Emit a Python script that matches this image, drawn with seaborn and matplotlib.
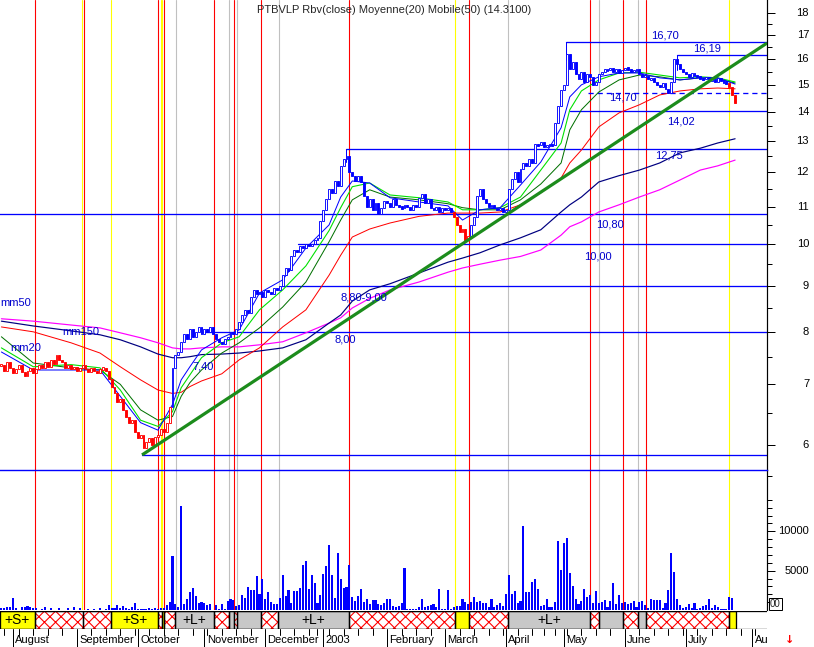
import numpy as np
import pandas as pd
import matplotlib
matplotlib.use("Agg")
import matplotlib.pyplot as plt
import seaborn as sns
from matplotlib.patches import Rectangle
from matplotlib.ticker import FixedLocator, NullFormatter, NullLocator

sns.set_theme(style="white")
plt.rcParams["font.family"] = ["Liberation Sans", "DejaVu Sans"]
plt.rcParams["hatch.linewidth"] = 0.8

# ---------------- data ----------------
closes = [
    7.35, 7.25, 7.40, 7.30, 7.20, 7.28, 7.35, 7.22, 7.15, 7.25,
    7.30, 7.20, 7.28, 7.35, 7.30, 7.40, 7.32, 7.45, 7.38, 7.55,
    7.45, 7.40, 7.30, 7.35, 7.28, 7.32, 7.25, 7.30, 7.35, 7.28,
    7.22, 7.30, 7.25, 7.20, 7.28, 7.30, 7.25, 7.10, 6.95, 6.85,
    6.70, 6.75, 6.55, 6.45, 6.35, 6.40, 6.20, 6.10, 6.15, 5.95,
    6.05, 6.10, 6.00, 6.12, 6.15, 6.25, 6.20, 6.35, 6.60, 7.30,
    7.55, 7.60, 7.80, 7.95, 7.85, 8.05, 7.90, 8.00, 8.10, 7.95,
    8.05, 8.00, 8.10, 7.95, 7.85, 7.80, 7.75, 7.85, 7.90, 8.00,
    7.95, 8.05, 8.20, 8.35, 8.45, 8.40, 8.75, 8.90, 8.80, 8.85,
    8.75, 8.90, 8.85, 8.80, 8.95, 8.90, 9.00, 9.25, 9.40, 9.35,
    9.70, 9.85, 9.80, 9.95, 9.90, 10.00, 9.95, 10.00, 10.10, 10.15,
    10.60, 10.90, 11.20, 11.50, 11.40, 11.75, 11.60, 12.20, 12.40, 12.50,
    12.00, 11.90, 11.75, 11.90, 11.70, 11.30, 11.00, 11.20, 10.90, 11.10,
    10.80, 10.95, 11.15, 11.10, 11.00, 11.20, 11.05, 11.00, 10.95, 11.05,
    11.00, 10.90, 11.05, 11.00, 11.25, 11.35, 11.10, 11.20, 10.95, 10.90,
    11.00, 10.85, 10.95, 10.90, 10.95, 10.85, 10.70, 10.50, 10.30, 10.40,
    10.10, 10.20, 10.50, 10.70, 11.30, 11.50, 11.20, 11.10, 11.00, 11.05,
    10.95, 10.90, 10.95, 10.85, 10.90, 11.50, 11.80, 12.00, 11.70, 12.10,
    12.30, 12.20, 12.40, 12.30, 12.90, 12.85, 12.95, 12.80, 12.85, 12.90,
    12.85, 13.60, 14.20, 14.80, 15.00, 16.20, 15.60, 15.90, 15.40, 15.20,
    15.50, 15.10, 15.40, 15.30, 15.00, 15.10, 15.40, 15.50, 15.60, 15.55,
    15.65, 15.50, 15.60, 15.45, 15.55, 15.65, 15.60, 15.50, 15.55, 15.60,
    15.40, 15.30, 15.35, 15.20, 15.25, 15.10, 15.00, 14.90, 15.05, 14.85,
    14.70, 15.10, 16.00, 15.80, 15.60, 15.50, 15.40, 15.30, 15.45, 15.35,
    15.30, 15.25, 15.20, 15.30, 15.15, 15.20, 15.10, 15.25, 15.15, 15.10,
    15.05, 14.90, 14.60, 14.31,
]

volumes = [
    250, 300, 400, 400, 1500, 250, 0, 400, 400, 500,
    400, 300, 250, 0, 150, 400, 0, 200, 0, 0,
    250, 0, 0, 250, 0, 400, 0, 250, 0, 0,
    150, 0, 150, 0, 250, 0, 150, 600, 250, 250,
    600, 250, 550, 250, 150, 350, 850, 100, 150, 150,
    150, 250, 150, 250, 150, 250, 250, 600, 1000, 6800,
    760, 400, 13200, 720, 1360, 2330, 2750, 1780, 850, 1000, 900, 600,
    760, 0, 640, 150, 760, 150, 1190, 1400, 1270, 500,
    640, 1900, 1570, 2880, 2540, 2540, 4320, 2000, 3900, 1400,
    2250, 975, 760, 760, 1530, 4400, 1780, 2540, 850, 2460,
    2460, 2750, 5700, 6230, 2630, 4450, 3480, 850, 1900, 4580,
    5600, 8200, 4450, 1530, 7200, 3900, 2750, 2970, 5680, 1700,
    1150, 1780, 2670, 1060, 1360, 760, 1270, 1270, 720, 640,
    850, 1400, 1400, 500, 340, 500, 850, 5300, 170, 170,
    170, 170, 420, 1360, 420, 500, 640, 760, 420, 2630,
    170, 170, 2540, 170, 420, 500, 500, 1360, 1060, 760,
    1060, 1610, 1060, 1150, 850, 930, 420, 1360, 420, 640,
    930, 500, 2030, 4450, 2030, 2420, 930, 1150, 10700, 2290,
    2330, 3600, 3940, 2630, 500, 640, 1400, 420, 420, 1060,
    8780, 5090, 8480, 9160, 4750, 3050, 1360, 760, 1150, 2630,
    1700, 1900, 930, 2370, 850, 1060, 1270, 420, 1190, 3390,
    720, 1900, 850, 975, 720, 930, 1190, 340, 975, 1190,
    640, 250, 1360, 1270, 1270, 1270, 300, 930, 2540, 7200,
    4880, 1360, 640, 300, 420, 720, 250, 850, 170, 300,
    500, 640, 1360, 300, 640, 420, 170, 85, 150, 1700, 1570,
]

# moving averages, sampled along the curves (trading-day index, price)
ma_idx = [0, 11, 24, 34, 41, 48, 54, 59, 62, 65, 69, 76, 82, 89, 97, 105, 113, 117, 121,
          127, 134, 144, 154, 159, 165, 172, 179, 186, 193, 196, 200, 206, 213, 220, 227,
          234, 241, 247, 253]
ma_fast = [7.60, 7.26, 7.26, 7.26, 6.79, 6.35, 6.23, 6.65, 7.08, 7.32, 7.64, 7.88, 8.04, 8.83,
           9.13, 9.90, 10.50, 11.27, 11.74, 11.68, 11.25, 11.13, 11.02, 10.63, 10.91, 10.97,
           11.62, 12.32, 13.44, 14.54, 14.99, 15.30, 15.45, 15.45, 15.26, 15.18, 15.26,
           15.26, 15.02]
ma_lgreen = [7.68, 7.32, 7.36, 7.30, 6.90, 6.39, 6.29, 6.53, 6.94, 7.17, 7.49, 7.78, 7.90,
             8.46, 8.90, 9.46, 10.35, 10.97, 11.57, 11.68, 11.33, 11.25, 11.13, 10.91, 10.91,
             10.97, 11.27, 12.07, 12.93, 14.07, 14.76, 15.18, 15.45, 15.48, 15.37, 15.26,
             15.30, 15.26, 15.10]
ma_dgreen = [7.90, 7.39, 7.30, 7.26, 7.00, 6.56, 6.39, 6.45, 6.79, 7.03, 7.26, 7.58, 7.78,
             8.08, 8.52, 9.08, 10.06, 10.63, 11.19, 11.48, 11.27, 11.19, 11.08, 10.97, 10.91,
             10.91, 11.19, 11.65, 12.29, 13.37, 14.07, 14.72, 15.18, 15.37, 15.30, 15.18,
             15.26, 15.22, 15.06]
ma50 = [8.10, 8.00, 7.78, 7.58, 7.32, 7.08, 6.90, 6.84, 6.86, 6.96, 7.06, 7.19, 7.45, 7.68,
        8.10, 8.46, 9.24, 9.72, 10.18, 10.39, 10.55, 10.73, 10.82, 10.82, 10.82, 10.85,
        11.05, 11.39, 11.83, 12.29, 12.70, 13.47, 13.96, 14.25, 14.61, 14.76, 14.84, 14.87,
        14.84]
ma150 = [8.22, 8.12, 8.02, 7.94, 7.84, 7.70, 7.56, 7.49, 7.49, 7.51, 7.55, 7.56, 7.58, 7.62,
         7.68, 7.84, 8.18, 8.35, 8.65, 8.90, 9.04, 9.29, 9.55, 9.65, 9.78, 9.98, 10.16,
         10.37, 10.85, 11.05, 11.27, 11.71, 11.90, 12.07, 12.29, 12.61, 12.76, 12.93, 13.07]
ma200 = [8.27, 8.22, 8.14, 8.08, 7.98, 7.88, 7.78, 7.68, 7.66, 7.66, 7.68, 7.70, 7.70, 7.74,
         7.80, 7.98, 8.18, 8.29, 8.50, 8.71, 8.90, 9.08, 9.31, 9.41, 9.50, 9.60, 9.69, 9.85,
         10.23, 10.45, 10.58, 10.85, 11.05, 11.27, 11.48, 11.77, 12.07, 12.20, 12.38]

# trading periods drawn in red (sell regime)
red_ranges = [(0, 58), (156, 161), (251, 253)]

# support / resistance levels: value, first trading day, dashed
level_vals = [16.70, 16.19, 14.70, 14.02, 12.75, 10.80, 10.00, 9.00, 8.00, 5.85]
level_from = [194.7, 233.0, 202.3, 196.0, 118.8, -1.0, 102.3, 96.8, 69.5, 48.5]
level_dash = [False, False, True, False, False, False, False, False, False, False]
level_texts = ["16,70", "16,19", "14,70", "14,02", "12,75", "10,80", "10,00",
               "8,80-9,00", "8,00", "7,40"]
ma_texts = ["mm50", "mm150", "mm20"]

# trend line (two anchor points: trading day, price)
trend_x = [48.5, 264.0]
trend_y = [5.85, 16.67]

# signal days (trading-day index) and their type
signal_days = [11.6, 27.8, 28.5, 37.8, 54.1, 54.9, 55.5, 56.2, 60.1, 73.3, 78.6, 80.3, 81.3,
               89.6, 95.6, 120.0, 156.5, 161.3, 174.8, 203.1, 206.2, 214.4, 219.6, 222.4, 251.0]
signal_kind = ["red", "yellow", "red", "yellow", "red", "yellow", "yellow", "red", "gray",
               "red", "gray", "red", "gray", "red", "gray", "red", "yellow", "red", "gray",
               "red", "gray", "red", "gray", "red", "yellow"]

# position band: segments (start, end, state)
band_start = [-0.5, 11.6, 28.2, 37.8, 54.0, 55.3, 56.1, 59.9, 73.3, 78.5, 80.2, 81.2, 89.5,
              95.4, 119.9, 156.4, 161.3, 174.7, 203.0, 206.1, 214.4, 219.5, 222.3, 250.9]
band_end = [11.6, 28.2, 37.8, 54.0, 55.3, 56.1, 59.9, 73.3, 78.5, 80.2, 81.2, 89.5, 95.4,
            119.9, 156.4, 161.3, 174.7, 203.0, 206.1, 214.4, 219.5, 222.3, 250.9, 253.3]
band_state = ["S", "H", "H", "S", "H", "S", "H", "L", "H", "L", "H", "L", "H",
              "L", "H", "S", "H", "L", "H", "L", "H", "L", "H", "S"]

month_names = ["August", "September", "October", "November", "December", "2003",
               "February", "March", "April", "May", "June", "July", "Au"]
price_ticks = [6, 7, 8, 9, 10, 11, 12, 13, 14, 15, 16, 17, 18]
vol_ticks = [5000, 10000]
title_text = "PTBVLP Rbv(close) Moyenne(20) Mobile(50) (14.3100)"

# trading calendar (Euronext, holidays removed)
holidays = pd.to_datetime(["2002-12-25", "2002-12-26", "2003-01-01",
                           "2003-04-18", "2003-04-21", "2003-05-01"])
cal = pd.bdate_range("2002-07-26", "2003-08-08")
cal = cal[~cal.isin(holidays)]
cal_idx = np.arange(len(cal))

# ---------------- layout ----------------
W, H = 814, 647
fig = plt.figure(figsize=(W / 100, H / 100), dpi=100)
fig.patch.set_facecolor("white")


def rect(x0, y0, x1, y1):
    return [x0 / W, 1 - y1 / H, (x1 - x0) / W, (y1 - y0) / H]


axv = fig.add_axes(rect(0, 470, 767, 610))
axb = fig.add_axes(rect(0, 611, 767, 629))
axp = fig.add_axes(rect(0, 0, 767, 470))
XL = (-0.48, 264.0)
PX = 0.72  # one pixel in points

BLUE = "#0000FF"
RED = "#FF0000"
col_sig = {"red": RED, "yellow": "#FFFF00", "gray": "#C0C0C0"}

for ax in (axp, axv, axb):
    ax.set_xlim(*XL)
    ax.xaxis.set_major_locator(NullLocator())
    for s in ax.spines.values():
        s.set_visible(False)
axp.patch.set_alpha(0)
axv.patch.set_facecolor("white")
axb.patch.set_facecolor("white")

# ----- price panel -----
axp.set_yscale("log")
axp.set_ylim(5.63, 18.6)

for d, k in zip(signal_days, signal_kind):
    axp.axvline(d, color=col_sig[k], lw=PX * 1.1, zorder=1)
    axv.axvline(d, color=col_sig[k], lw=PX * 1.1, zorder=1)

# levels
for v, x0, dsh in zip(level_vals, level_from, level_dash):
    axp.plot([x0, XL[1]], [v, v], color=BLUE, lw=PX * 1.3,
             ls=(0, (4, 3)) if dsh else "-", zorder=2)

# connectors from level start down to the candle
c = np.array(closes)
for v, x0 in zip(level_vals[:2] + [level_vals[4]], level_from[:2] + [level_from[4]]):
    j = int(round(x0))
    axp.plot([x0, x0], [v, c[j] * 0.985], color=BLUE, lw=PX, zorder=2)

# moving averages
ma_df = pd.DataFrame({"idx": ma_idx, "fast": ma_fast, "lg": ma_lgreen, "dg": ma_dgreen,
                      "m50": ma50, "m150": ma150, "m200": ma200})
for col, color, lw in [("m200", "#FF00FF", 1.2), ("m150", "#000080", 1.2),
                       ("m50", RED, 1.0), ("dg", "#007000", 1.0),
                       ("lg", "#00E000", 1.1), ("fast", BLUE, 1.0)]:
    sns.lineplot(data=ma_df, x="idx", y=col, ax=axp, color=color, lw=PX * lw,
                 estimator=None, zorder=3)

# candles (body between previous and current close)
opens = np.r_[c[0], c[:-1]]
for i, (o, cl) in enumerate(zip(opens, c)):
    red = any(a <= i <= b for a, b in red_ranges)
    color = RED if red else BLUE
    lo, hi = min(o, cl), max(o, cl)
    if hi / lo < 1.006:
        mid = (hi * lo) ** 0.5
        lo, hi = mid / 1.003, mid * 1.003
    up = cl >= o
    axp.add_patch(Rectangle((i - 0.33, lo), 0.66, hi - lo,
                            facecolor="white" if up else color,
                            edgecolor=color, lw=PX * 0.9, zorder=4))

# trend line
axp.plot(trend_x, trend_y, color="#1C8C1C", lw=PX * 3.2, zorder=5,
         solid_capstyle="butt")

# labels (placed in trading-day / price coordinates)
txt_pos = [(223.9, 16.98), (238.5, 16.45), (209.5, 14.50), (229.5, 13.64), (225.4, 12.53),
           (205.0, 10.50), (200.9, 9.70), (116.8, 8.72), (115.0, 7.84), (65.7, 7.32)]
for t, (x, y) in zip(level_texts, txt_pos):
    axp.text(x, y, t, color="#0000CC", fontsize=8, ha="left", va="center", zorder=6)
for t, (x, y) in zip(ma_texts, [(-0.4, 8.61), (20.9, 8.00), (3.0, 7.68)]):
    axp.text(x, y, t, color="#0000CC", fontsize=8, ha="left", va="center", zorder=6)

# right axis
axp.spines["right"].set_visible(True)
axp.spines["right"].set_color("black")
axp.spines["right"].set_linewidth(PX * 1.2)
axp.spines["bottom"].set_visible(True)
axp.spines["bottom"].set_color(BLUE)
axp.spines["bottom"].set_linewidth(PX * 1.4)
axp.spines["bottom"].set_zorder(7)
axp.yaxis.set_major_locator(FixedLocator(price_ticks))
axp.yaxis.set_minor_locator(FixedLocator([t + 0.5 for t in price_ticks[:-1]]))
axp.yaxis.set_major_formatter(NullFormatter())
axp.yaxis.set_minor_formatter(NullFormatter())
axp.tick_params(axis="y", which="major", left=False, right=True, direction="out",
                length=6, width=PX, color="black")
axp.tick_params(axis="y", which="minor", left=False, right=True, direction="out",
                length=3.5, width=PX, color="black")
axp.set_ylabel("")
axp.set_xlabel("")
tr = axp.get_yaxis_transform()
for t in price_ticks:
    axp.text(1.0548, t, str(t), transform=tr, ha="right", va="center", fontsize=8,
             color="black", clip_on=False)

# ----- volume panel -----
vidx = np.arange(len(volumes))
axv.bar(vidx, volumes, width=0.7, color=BLUE, linewidth=0, zorder=3)
axv.set_ylim(0, 17790)
axv.spines["right"].set_visible(True)
axv.spines["right"].set_color("black")
axv.spines["right"].set_linewidth(PX * 1.2)
axv.yaxis.set_major_locator(FixedLocator(vol_ticks))
axv.yaxis.set_minor_locator(FixedLocator([k * 1000 for k in range(1, 15)] + [17000]))
axv.yaxis.set_major_formatter(NullFormatter())
axv.yaxis.set_minor_formatter(NullFormatter())
axv.tick_params(axis="y", which="major", left=False, right=True, direction="out",
                length=6, width=PX, color="black")
axv.tick_params(axis="y", which="minor", left=False, right=True, direction="out",
                length=3.5, width=PX, color="black")
trv = axv.get_yaxis_transform()
for t in vol_ticks:
    axv.text(1.0548, t, str(t), transform=trv, ha="right", va="center", fontsize=8,
             color="black", clip_on=False)

# ----- position band -----
axb.set_ylim(0, 1)
axb.yaxis.set_major_locator(NullLocator())
fillc = {"S": "#FFFF00", "L": "#C8C8C8"}
for a, b, s in zip(band_start, band_end, band_state):
    if s == "H":
        axb.add_patch(Rectangle((a, 0), b - a, 1, facecolor="white", edgecolor=RED,
                                hatch="xxx", lw=0, zorder=1))
    else:
        axb.add_patch(Rectangle((a, 0), b - a, 1, facecolor=fillc[s], lw=0, zorder=1))
    axb.add_patch(Rectangle((a, 0), b - a, 1, facecolor="none", edgecolor="black",
                            lw=PX * 1.3, zorder=2))
    if s != "H" and b - a > 10:
        axb.text((a + b) / 2, 0.5, "+%s+" % s, ha="center", va="center", fontsize=10,
                 color="black", zorder=3)
axb.axhline(0, color="black", lw=PX * 1.3, zorder=2)
axb.axhline(1, color="black", lw=PX * 1.3, zorder=2)

# month / week ticks under the band
months = pd.Series(cal_idx, index=cal).groupby([cal.year, cal.month]).min().values
weeks = pd.Series(cal_idx, index=cal).groupby(cal.to_period("W")).min().values
for w in weeks:
    if w not in months and w < XL[1]:
        axb.plot([w, w], [0, -0.35], color="black", lw=PX, clip_on=False)
for m, name in zip(months[1:], month_names):
    if m > XL[1]:
        break
    axb.plot([m, m], [0, -1.0], color="black", lw=PX, clip_on=False)
    axb.text(m + 0.8, -0.62, name, ha="left", va="center", fontsize=8, color="black",
             clip_on=False)

# title
fig.text(257 / W, 1 - 10 / H, title_text, fontsize=8, ha="left", va="center")

# small corner widgets
fig.text(770 / W, 1 - 604 / H, "00", fontsize=7, ha="left", va="center",
         bbox=dict(facecolor="white", edgecolor="black", pad=0.6, lw=PX))
fig.text(790 / W, 1 - 640 / H, "\u2193", fontsize=8, color=RED, fontweight="bold",
         ha="center", va="center", family="DejaVu Sans")

fig.savefig("out.png", dpi=100, facecolor="white")
